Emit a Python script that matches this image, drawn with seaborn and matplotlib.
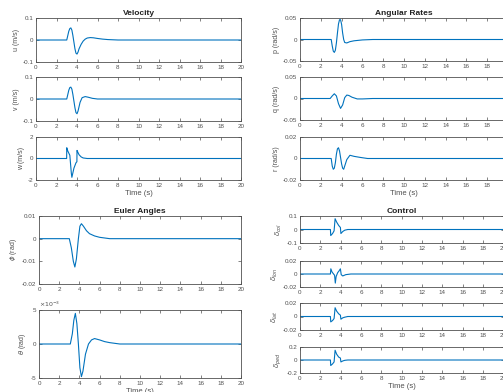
import matplotlib
matplotlib.use("Agg")
import matplotlib.pyplot as plt
from matplotlib.ticker import FuncFormatter
import seaborn as sns
import numpy as np

# ---- data (time in s) ----
t_u = [0, 3.0, 3.1, 3.2, 3.3, 3.4, 3.5, 3.6, 3.7, 3.8, 3.9, 4.0, 4.1, 4.2, 4.4, 4.6, 4.8, 5.0, 5.3, 5.6, 6.0, 6.5, 7.0, 8.0, 20]
u = [0, 0, 0.02, 0.04, 0.052, 0.055, 0.045, 0.02, -0.01, -0.04, -0.06, -0.064, -0.055, -0.04, -0.02, -0.005, 0.004, 0.009, 0.011, 0.010, 0.007, 0.004, 0.002, 0.0, 0]

t_v = [0, 3.0, 3.1, 3.2, 3.3, 3.4, 3.5, 3.6, 3.7, 3.8, 3.9, 4.0, 4.1, 4.2, 4.3, 4.5, 4.8, 5.1, 5.5, 6.0, 20]
v = [0, 0, 0.02, 0.04, 0.052, 0.054, 0.045, 0.02, -0.01, -0.04, -0.062, -0.067, -0.055, -0.035, -0.015, 0.006, 0.011, 0.008, 0.003, 0.0, 0]

t_w = [0, 2.99, 3.0, 3.1, 3.2, 3.3, 3.45, 3.5, 3.7, 3.9, 3.99, 4.0, 4.1, 4.2, 4.4, 4.6, 5.0, 20]
w = [0, 0, 1.0, 0.7, 0.5, 0.3, -1.4, -1.75, -0.9, -0.4, -0.3, 0.75, 0.55, 0.35, 0.15, 0.05, 0, 0]

t_p = [0, 3.0, 3.1, 3.2, 3.3, 3.4, 3.5, 3.6, 3.7, 3.8, 3.9, 4.0, 4.1, 4.2, 4.3, 4.5, 4.8, 5.2, 6.0, 7.0, 20]
p = [0, 0, -0.015, -0.027, -0.030, -0.025, -0.008, 0.015, 0.036, 0.046, 0.046, 0.035, 0.015, 0.0, -0.007, -0.008, -0.005, -0.003, -0.001, 0, 0]

t_q = [0, 2.9, 3.1, 3.3, 3.5, 3.7, 3.9, 4.1, 4.3, 4.5, 4.7, 5.0, 5.5, 6.0, 7.0, 20]
q = [0, 0, 0.006, 0.011, 0.006, -0.012, -0.023, -0.015, 0.002, 0.008, 0.007, 0.003, -0.001, -0.001, 0, 0]

t_r = [0, 3.0, 3.1, 3.2, 3.3, 3.4, 3.5, 3.6, 3.7, 3.8, 3.9, 4.0, 4.1, 4.2, 4.3, 4.5, 4.8, 5.2, 5.8, 6.5, 20]
r = [0, 0, -0.007, -0.010, -0.009, -0.004, 0.004, 0.009, 0.010, 0.007, 0.001, -0.005, -0.009, -0.010, -0.007, -0.001, 0.003, 0.002, 0.001, 0, 0]

t_phi = [0, 3.0, 3.2, 3.4, 3.55, 3.7, 3.9, 4.05, 4.2, 4.4, 4.7, 5.0, 5.5, 6.0, 7.0, 20]
phi = [0, 0, -0.004, -0.010, -0.0125, -0.009, 0.0, 0.0055, 0.0066, 0.0055, 0.0035, 0.0022, 0.0012, 0.0006, 0, 0]

t_theta = [0, 3.1, 3.3, 3.45, 3.6, 3.75, 3.9, 4.05, 4.2, 4.35, 4.6, 4.9, 5.2, 5.5, 6.0, 6.5, 7.0, 8.0, 20]
theta = [0, 0, 1.5e-3, 3.5e-3, 4.5e-3, 3.0e-3, 0, -3.5e-3, -4.8e-3, -4.0e-3, -1.5e-3, 0.0, 0.6e-3, 0.8e-3, 0.6e-3, 0.35e-3, 0.2e-3, 0, 0]

t_col = [0, 2.99, 3.02, 3.2, 3.35, 3.45, 3.6, 3.8, 3.97, 4.02, 4.2, 4.4, 4.7, 20]
d_col = [0, 0, -0.045, -0.03, -0.01, 0.08, 0.055, 0.03, 0.015, -0.03, -0.015, -0.005, 0, 0]

t_lon = [0, 2.99, 3.03, 3.15, 3.3, 3.4, 3.47, 3.55, 3.7, 3.85, 3.97, 4.05, 4.2, 4.5, 5.0, 20]
d_lon = [0, 0, 0.008, 0.003, 0.0, -0.002, -0.014, -0.004, 0.002, 0.005, 0.008, -0.001, -0.003, -0.001, 0, 0]

t_lat = [0, 2.99, 3.02, 3.2, 3.35, 3.45, 3.6, 3.8, 3.97, 4.02, 4.2, 4.4, 4.7, 20]
d_lat = [0, 0, -0.008, -0.006, -0.003, 0.013, 0.008, 0.004, 0.002, -0.004, -0.002, -0.001, 0, 0]

t_ped = [0, 2.99, 3.02, 3.2, 3.35, 3.45, 3.6, 3.8, 3.97, 4.02, 4.2, 4.4, 4.7, 20]
d_ped = [0, 0, -0.085, -0.06, -0.03, 0.15, 0.09, 0.045, 0.03, -0.03, -0.015, -0.005, 0, 0]

x_ticks = list(range(0, 21, 2))

sns.set_style("ticks")
plt.rcParams['font.family'] = ['Liberation Sans', 'DejaVu Sans']
plt.rcParams['mathtext.fontset'] = 'dejavusans'
plt.rcParams['axes.unicode_minus'] = False

LINE = "#0072BD"
GREY = "#505050"
W, H = 503, 392

fig = plt.figure(figsize=(W / 100, H / 100), dpi=100)
fig.patch.set_facecolor("white")


def make_ax(x0, x1, y0, y1):
    # pixel box (top-left origin) -> figure coords
    return fig.add_axes([x0 / W, 1 - y1 / H, (x1 - x0) / W, (y1 - y0) / H])


def panel(box, t, y, ylim, yticks, ylabel, title=None, xlabel=None, scale=1.0, hide_last_x=False):
    ax = make_ax(*box)
    sns.lineplot(x=np.array(t), y=np.array(y), ax=ax, color=LINE, linewidth=0.8)
    ax.set_xlim(0, 20)
    ax.set_ylim(*ylim)
    ax.set_xticks(x_ticks)
    ax.set_yticks(yticks)
    ax.yaxis.set_major_formatter(FuncFormatter(lambda val, pos: "%g" % round(val * scale, 6)))
    if hide_last_x:
        # the 20 label falls past the right edge of the picture
        ax.xaxis.set_major_formatter(FuncFormatter(lambda val, pos: "" if val >= 20 else "%g" % val))
    ax.tick_params(direction="in", length=2, width=0.5, top=True, right=True,
                   labelsize=4.5, colors=GREY, pad=2)
    for s in ax.spines.values():
        s.set_color(GREY)
        s.set_linewidth(0.6)
        s.set_visible(True)
    if scale != 1.0:
        ax.text(0.0, 1.01, r"$\times10^{-3}$", transform=ax.transAxes, fontsize=4.5,
                color=GREY, ha="left", va="bottom")
    ax.set_ylabel(ylabel, fontsize=5, color=GREY, labelpad=2)
    if xlabel:
        ax.set_xlabel(xlabel, fontsize=5.5, color=GREY, labelpad=1.5)
    else:
        ax.set_xlabel("")
    if title:
        ax.set_title(title, fontsize=6, fontweight="bold", color="#222222", pad=2.5)
    return ax


# Velocity
panel((36, 241, 18, 62), t_u, u, (-0.1, 0.1), [-0.1, 0, 0.1], "u (m/s)", title="Velocity")
panel((36, 241, 77, 121), t_v, v, (-0.1, 0.1), [-0.1, 0, 0.1], "v (m/s)")
panel((36, 241, 137, 180), t_w, w, (-2, 2), [-2, 0, 2], "w (m/s)", xlabel="Time (s)")

# Angular rates
panel((300, 508, 18, 61), t_p, p, (-0.05, 0.05), [-0.05, 0, 0.05], "p (rad/s)", title="Angular Rates", hide_last_x=True)
panel((300, 508, 77, 120), t_q, q, (-0.05, 0.05), [-0.05, 0, 0.05], "q (rad/s)", hide_last_x=True)
panel((300, 508, 137, 180), t_r, r, (-0.02, 0.02), [-0.02, 0, 0.02], "r (rad/s)", xlabel="Time (s)", hide_last_x=True)

# Euler angles
panel((39, 241, 216, 284), t_phi, phi, (-0.02, 0.01), [-0.02, -0.01, 0, 0.01], r"$\phi$ (rad)", title="Euler Angles")
panel((39, 241, 310, 378), t_theta, theta, (-5e-3, 5e-3), [-5e-3, 0, 5e-3], r"$\theta$ (rad)",
      xlabel="Time (s)", scale=1e3)

# Control
panel((300, 503.5, 216, 243), t_col, d_col, (-0.1, 0.1), [-0.1, 0, 0.1], r"$\delta_{col}$", title="Control")
panel((300, 503.5, 261, 287), t_lon, d_lon, (-0.02, 0.02), [-0.02, 0, 0.02], r"$\delta_{lon}$")
panel((300, 503.5, 303, 330), t_lat, d_lat, (-0.02, 0.02), [-0.02, 0, 0.02], r"$\delta_{lat}$")
panel((300, 503.5, 347, 373), t_ped, d_ped, (-0.2, 0.2), [-0.2, 0, 0.2], r"$\delta_{ped}$", xlabel="Time (s)")

fig.savefig("out.png", dpi=100, facecolor="white")
